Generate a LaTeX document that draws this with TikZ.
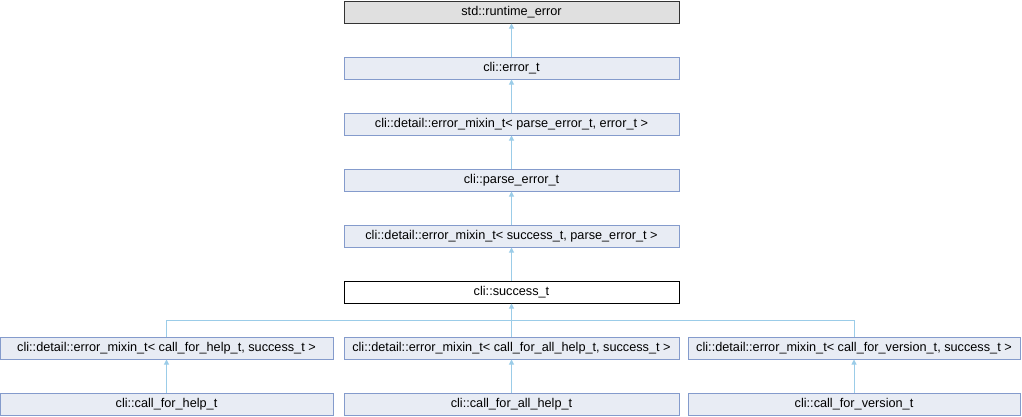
\documentclass[tikz,border=0pt]{standalone}
\usepackage{fontspec}
\setmainfont{Liberation Sans}
\usetikzlibrary{arrows.meta}
\definecolor{boxfill}{RGB}{232,236,244}
\definecolor{boxline}{RGB}{132,155,204}
\definecolor{edgecol}{RGB}{155,204,232}
\definecolor{greyfill}{RGB}{224,224,224}
\tikzset{
  cls/.style={draw=boxline, fill=boxfill, line width=1pt, minimum height=22pt, inner sep=0pt, font=\fontsize{12.7}{14}\selectfont},
  ext/.style={cls, draw=black!80, fill=greyfill},
  cur/.style={cls, draw=black, fill=white},
  inh/.style={draw=edgecol, line width=1pt, -{Triangle[width=5pt,length=5pt]}},
  lnk/.style={draw=edgecol, line width=1pt}
}
\begin{document}
\begin{tikzpicture}[x=1pt,y=-1pt]
\useasboundingbox (0,0) rectangle (1022,416);
\node[ext, minimum width=335pt] (re) at (511.5,12) {std::runtime\_error};
\node[cls, minimum width=335pt] (err) at (511.5,68) {cli::error\_t};
\node[cls, minimum width=335pt] (mx1) at (511.5,124) {cli::detail::error\_mixin\_t< parse\_error\_t, error\_t >};
\node[cls, minimum width=335pt] (pe) at (511.5,180) {cli::parse\_error\_t};
\node[cls, minimum width=335pt] (mx2) at (511.5,236) {cli::detail::error\_mixin\_t< success\_t, parse\_error\_t >};
\node[cur, minimum width=335pt] (succ) at (511.5,292) {cli::success\_t};
\node[cls, minimum width=333pt] (mh) at (166.5,348) {cli::detail::error\_mixin\_t< call\_for\_help\_t, success\_t >};
\node[cls, minimum width=335pt] (mah) at (511.5,348) {cli::detail::error\_mixin\_t< call\_for\_all\_help\_t, success\_t >};
\node[cls, minimum width=332pt] (mv) at (854,348) {cli::detail::error\_mixin\_t< call\_for\_version\_t, success\_t >};
\node[cls, minimum width=333pt] (h) at (166.5,404) {cli::call\_for\_help\_t};
\node[cls, minimum width=335pt] (ah) at (511.5,404) {cli::call\_for\_all\_help\_t};
\node[cls, minimum width=332pt] (v) at (854,404) {cli::call\_for\_version\_t};
\coordinate (j) at (511.5,320);
\draw[inh] (err) -- (re);
\draw[inh] (mx1) -- (err);
\draw[inh] (pe) -- (mx1);
\draw[inh] (mx2) -- (pe);
\draw[inh] (succ) -- (mx2);
\draw[inh] (mah) -- (succ);
\draw[lnk] (mh.north) |- (j);
\draw[lnk] (mv.north) |- (j);
\draw[inh] (h) -- (mh);
\draw[inh] (ah) -- (mah);
\draw[inh] (v) -- (mv);
\end{tikzpicture}
\end{document}
